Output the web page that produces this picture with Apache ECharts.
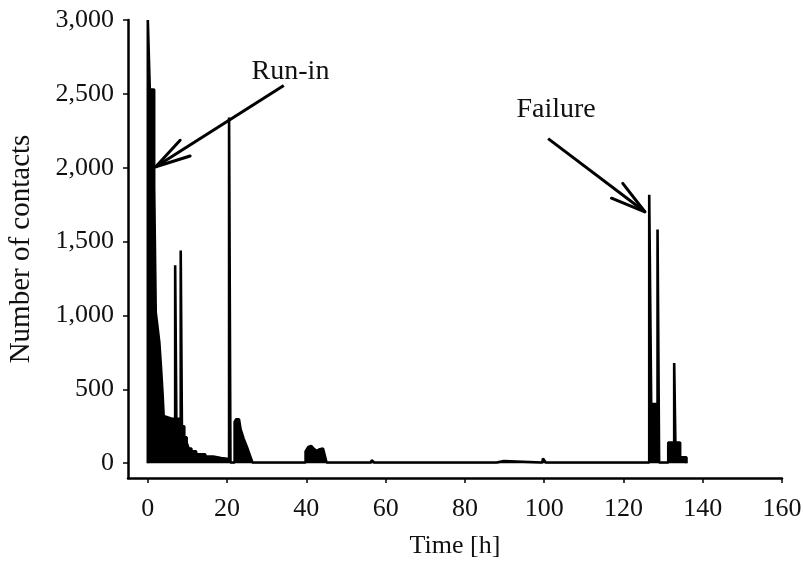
<!DOCTYPE html>
<html>
<head>
<meta charset="utf-8">
<script src="https://cdn.jsdelivr.net/npm/echarts@6/dist/echarts.min.js"></script>
<style>
  html, body { margin: 0; padding: 0; background: #fff; }
  #contactsChart { width: 804px; height: 562px; }
</style>
</head>
<body>
<div id="contactsChart"></div>
<script>
// time in hours, number of contacts (pairs at equal time = vertical edges)
var timeH = [
  0, 0, 0.5, 0.5, 1.6, 1.6, 2.0, 2.0, 2.5, 2.5, 2.9, 2.9, 3.3, 3.7, 4.0, 6.2,
  6.9, 6.9, 7.2, 7.2, 8.3, 8.3, 8.6, 8.6, 9.2, 9.2, 9.8, 9.8, 10.3, 10.3, 11.0, 11.0,
  12.2, 12.2, 14.5, 14.5, 16.5, 16.5, 18.5, 18.5, 20.5, 20.5, 20.85, 20.85,
  21.9, 21.9, 22.3, 23.0, 23.4, 24.2, 25.0, 25.8, 26.4,
  39.8, 39.8, 40.5, 41.2, 41.8, 42.6, 43.4, 44.2, 44.6, 45.1,
  56.3, 56.5, 56.9, 57.1, 72.3, 72.5, 72.8, 75.3, 75.5, 75.8,
  88.0, 88.3, 89.8, 90.0, 99.5, 99.7, 100.2, 100.4,
  126.5, 126.5, 127.0, 127.0, 128.6, 128.6, 129.0, 129.0,
  131.3, 131.3, 132.8, 132.8, 133.1, 133.1, 134.3, 134.3, 135.9, 135.9
]
var contacts = [
  0, 3000, 3000, 2530, 2530, 1870, 1870, 1020, 1020, 910, 910, 820, 660, 480, 320, 300,
  300, 1340, 1340, 300, 300, 1440, 1440, 250, 250, 175, 175, 140, 140, 100, 100, 80,
  80, 60, 60, 45, 45, 35, 35, 28, 28, 2340, 2340, 5,
  5, 280, 298, 298, 230, 165, 110, 50, 5,
  5, 80, 110, 117, 100, 83, 95, 100, 100, 5,
  5, 20, 20, 5, 5, 12, 5, 5, 12, 5,
  5, 15, 15, 5, 5, 32, 32, 5,
  5, 1817, 1817, 400, 400, 1582, 1582, 5,
  5, 140, 140, 678, 678, 140, 140, 40, 40, 0
]
var xTicks = [0, 20, 40, 60, 80, 100, 120, 140, 160]
var yTicks = [0, 500, 1000, 1500, 2000, 2500, 3000]

// annotations: [label, label pos, arrow tail, arrow tip] in data units
var notes = [
  ['Run-in', [36, 2650], [34.3, 2556], [2.0, 2007]],
  ['Failure', [103, 2390], [101, 2197], [125.4, 1702]]
]

var serif = '"Liberation Serif", "Times New Roman", serif'
var series = []
for (var i = 0; i < timeH.length; i++) {
  series.push([timeH[i], contacts[i]])
}

var myChart = echarts.init(document.getElementById('contactsChart'))
var option = {
  animation: false,
  backgroundColor: '#fff',
  grid: { left: 128, right: 22, top: 20, bottom: 84, outerBoundsMode: 'none' },
  xAxis: {
    type: 'value',
    min: -5,
    max: 160,
    name: 'Time [h]',
    nameLocation: 'middle',
    nameGap: 55,
    nameTextStyle: { fontFamily: serif, fontSize: 26, color: '#111' },
    axisLine: { show: true, onZero: false, lineStyle: { color: '#000', width: 2.5 } },
    axisTick: { show: true, customValues: xTicks, length: 5, lineStyle: { color: '#000', width: 1.5 } },
    axisLabel: { customValues: xTicks, margin: 18, fontFamily: serif, fontSize: 26, color: '#111' },
    splitLine: { show: false }
  },
  yAxis: {
    type: 'value',
    min: -100,
    max: 3000,
    name: 'Number of contacts',
    nameLocation: 'middle',
    nameGap: 92,
    nameTextStyle: { fontFamily: serif, fontSize: 29, color: '#111' },
    axisLine: { show: true, onZero: false, lineStyle: { color: '#000', width: 2.5 } },
    axisTick: { show: true, customValues: yTicks, length: 5, lineStyle: { color: '#000', width: 1.5 } },
    axisLabel: {
      customValues: yTicks,
      margin: 14,
      fontFamily: serif,
      fontSize: 26,
      color: '#111',
      formatter: function (v) { return v.toLocaleString('en-US') }
    },
    splitLine: { show: false }
  },
  series: [{
    type: 'line',
    data: series,
    showSymbol: false,
    sampling: 'none',
    lineStyle: { color: '#000', width: 2.6 },
    areaStyle: { color: '#000', opacity: 1 }
  }]
}
myChart.setOption(option)

// arrows with open heads + labels
var graphic = []
notes.forEach(function (n) {
  var lab = myChart.convertToPixel({ gridIndex: 0 }, n[1])
  var tail = myChart.convertToPixel({ gridIndex: 0 }, n[2])
  var tip = myChart.convertToPixel({ gridIndex: 0 }, n[3])
  var ang = Math.atan2(tail[1] - tip[1], tail[0] - tip[0])
  var headLen = 36
  var spread = 15 * Math.PI / 180
  graphic.push({ type: 'line', shape: { x1: tail[0], y1: tail[1], x2: tip[0], y2: tip[1] }, style: { stroke: '#000', lineWidth: 3 } })
  ;[-spread, spread].forEach(function (d) {
    graphic.push({
      type: 'line',
      shape: { x1: tip[0], y1: tip[1], x2: tip[0] + headLen * Math.cos(ang + d), y2: tip[1] + headLen * Math.sin(ang + d) },
      style: { stroke: '#000', lineWidth: 3, lineCap: 'round' }
    })
  })
  graphic.push({
    type: 'text',
    x: lab[0],
    y: lab[1],
    style: { text: n[0], font: '28px ' + serif, fill: '#111', align: 'center', verticalAlign: 'middle' }
  })
})
myChart.setOption({ graphic: graphic })
</script>
</body>
</html>
